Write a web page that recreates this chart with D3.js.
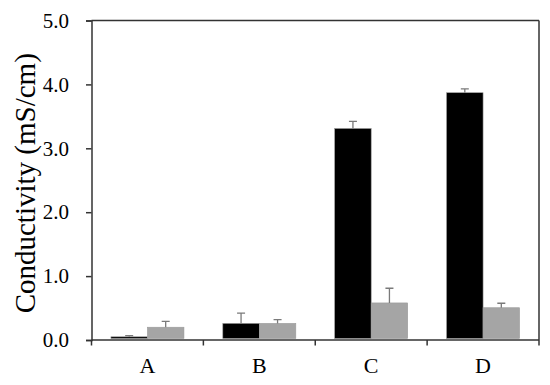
<!DOCTYPE html>
<html><head><meta charset="utf-8">
<script src="https://cdn.jsdelivr.net/npm/d3@7"></script>
<style>body{margin:0;background:#fff}svg{display:block}
text{font-family:"Liberation Serif","Times New Roman",Times,"DejaVu Serif",serif}</style>
</head><body>
<svg id="c" width="550" height="385"></svg>
<script>
const categories = ["A", "B", "C", "D"];
const series1 = [0.05, 0.26, 3.31, 3.87];
const series1Err = [0.02, 0.16, 0.11, 0.06];
const series2 = [0.20, 0.26, 0.58, 0.505];
const series2Err = [0.09, 0.06, 0.23, 0.07];
const yTicks = [0, 1, 2, 3, 4, 5];
const yTitle = "Conductivity (mS/cm)";

const svg = d3.select("#c");
const L = 91.5, R = 539, T = 20.5, B = 340;
const x = d3.scaleBand().domain(categories).range([L, R]);
const y = d3.scaleLinear().domain([0, 5]).range([B, T]);
const axisColor = "#333";

const barW = 36.5;
const seriesDefs = [
  {vals: series1, err: series1Err, fill: "#000000", off: -barW},
  {vals: series2, err: series2Err, fill: "#a5a5a5", off: 0}
];
seriesDefs.forEach(s => {
  const g = svg.append("g");
  g.selectAll("rect").data(categories).join("rect")
    .attr("x", d => x(d) + x.bandwidth() / 2 + s.off)
    .attr("width", barW)
    .attr("y", (d, i) => y(s.vals[i]))
    .attr("height", (d, i) => y(0) - y(s.vals[i]) - 1.5)
    .attr("fill", s.fill)
    .attr("stroke", "#9a9a9a").attr("stroke-width", 0.6);
  g.selectAll("path.err").data(categories).join("path")
    .attr("class", "err")
    .attr("d", (d, i) => {
      const cx = x(d) + x.bandwidth() / 2 + s.off + barW / 2;
      const y0 = y(s.vals[i]), y1 = y(s.vals[i] + s.err[i]);
      return `M${cx},${y0}V${y1}M${cx - 4},${y1}H${cx + 4}`;
    })
    .attr("stroke", "#7a7a7a").attr("stroke-width", 1.3).attr("fill", "none");
});

svg.append("line").attr("x1", L).attr("x2", R).attr("y1", T).attr("y2", T)
  .attr("stroke", axisColor).attr("stroke-width", 1.5);
svg.append("line").attr("x1", R).attr("x2", R).attr("y1", T).attr("y2", B)
  .attr("stroke", axisColor).attr("stroke-width", 1.5);

const yAxis = svg.append("g").attr("transform", `translate(${L},0)`)
  .call(d3.axisLeft(y).tickValues(yTicks).tickFormat(d3.format(".1f")).tickSize(5.5).tickPadding(17));
yAxis.attr("font-family", null);
yAxis.select(".domain").attr("stroke", axisColor).attr("stroke-width", 1.5);
yAxis.selectAll(".tick line").attr("stroke", axisColor).attr("stroke-width", 1.5);
yAxis.selectAll("text").attr("font-size", 21).attr("fill", "#000");

const xAxis = svg.append("g").attr("transform", `translate(0,${B})`);
xAxis.append("line").attr("x1", L).attr("x2", R).attr("stroke", axisColor).attr("stroke-width", 1.5);
const bounds = categories.map(c => x(c)).concat([R]);
xAxis.selectAll("line.tk").data(bounds).join("line").attr("class", "tk")
  .attr("x1", d => d).attr("x2", d => d).attr("y1", 0).attr("y2", 5.5)
  .attr("stroke", axisColor).attr("stroke-width", 1.5);
xAxis.selectAll("text").data(categories).join("text")
  .attr("x", d => x(d) + x.bandwidth() / 2).attr("y", 33)
  .attr("text-anchor", "middle").attr("font-size", 22)
  .text(d => d);

svg.append("text")
  .attr("transform", `translate(35,${(T + B) / 2 + 3}) rotate(-90)`)
  .attr("text-anchor", "middle").attr("font-size", 29)
  .text(yTitle);
</script>
</body></html>
